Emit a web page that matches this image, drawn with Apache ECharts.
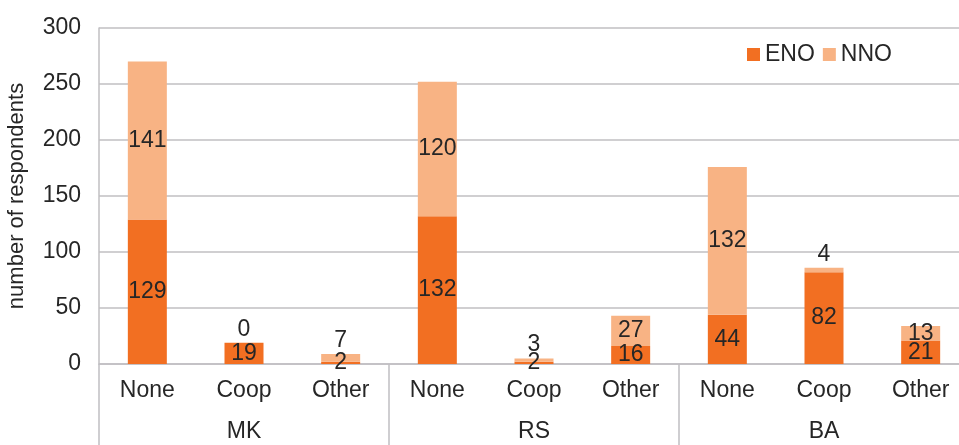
<!DOCTYPE html>
<html>
<head>
<meta charset="utf-8">
<script src="https://cdn.jsdelivr.net/npm/echarts@6/dist/echarts.min.js"></script>
<style>
  html, body { margin: 0; padding: 0; background: #fff; }
  #chart { width: 959px; height: 445px; }
</style>
</head>
<body>
<div id="chart"></div>
<script>
// Respondent counts by cooperation type, per country group
const groups = ['MK', 'RS', 'BA'];
const types = ['None', 'Coop', 'Other'];
const eno = [129, 19, 2, 132, 2, 16, 44, 82, 21];
const nno = [141, 0, 7, 120, 3, 27, 132, 4, 13];
const yTicks = { min: 0, max: 300, step: 50 };

const FONT = '"Liberation Sans Narrow", "Arial Narrow", "Liberation Sans", sans-serif';
const FS = 23;
const TEXT = '#262626';
const GRID = '#C0BFC2';
const ENO_COLOR = '#F26F22';
const NNO_COLOR = '#F8B384';

const categories = [];
groups.forEach(() => types.forEach(t => categories.push(t)));

// Thin top segments get their label lifted above the stack
const nnoData = nno.map(v => v < 8
  ? { value: v, label: { position: 'top', distance: 2 } }
  : v);

const chart = echarts.init(document.getElementById('chart'));
chart.setOption({
  animation: false,
  textStyle: { fontFamily: FONT },
  grid: { left: 99, top: 28, width: 870, height: 336, containLabel: false, outerBoundsMode: 'none' },
  legend: {
    left: 742, top: 38,
    itemWidth: 13, itemHeight: 13, itemGap: 8,
    icon: 'rect',
    textStyle: { fontFamily: FONT, fontSize: FS, color: TEXT },
    data: ['ENO', 'NNO']
  },
  xAxis: [
    {
      type: 'category',
      data: categories,
      position: 'bottom',
      axisLine: { show: true, lineStyle: { color: GRID, width: 1.5 } },
      axisTick: { show: false },
      axisLabel: { color: TEXT, fontFamily: FONT, fontSize: FS, margin: 15, interval: 0 }
    },
    {
      type: 'category',
      data: groups,
      position: 'bottom',
      boundaryGap: true,
      axisLine: { show: false },
      axisTick: { show: true, length: 82, interval: 0, lineStyle: { color: GRID, width: 1.5 } },
      axisLabel: { color: TEXT, fontFamily: FONT, fontSize: FS, margin: 56, interval: 0 }
    }
  ],
  yAxis: {
    type: 'value',
    min: yTicks.min, max: yTicks.max, interval: yTicks.step,
    name: 'number of respondents',
    nameLocation: 'middle',
    nameGap: 71,
    nameTextStyle: { color: TEXT, fontFamily: FONT, fontSize: 22 },
    axisLine: { show: true, lineStyle: { color: GRID, width: 1.5 } },
    axisTick: { show: false },
    axisLabel: { color: TEXT, fontFamily: FONT, fontSize: FS, margin: 18 },
    splitLine: { show: true, lineStyle: { color: GRID, width: 1.5 } }
  },
  series: [
    {
      name: 'ENO', type: 'bar', stack: 'total', xAxisIndex: 0,
      barWidth: 39,
      itemStyle: { color: ENO_COLOR },
      label: { show: true, position: 'inside', color: TEXT, fontFamily: FONT, fontSize: FS },
      data: eno
    },
    {
      name: 'NNO', type: 'bar', stack: 'total', xAxisIndex: 0,
      barWidth: 39,
      itemStyle: { color: NNO_COLOR },
      label: { show: true, position: 'inside', color: TEXT, fontFamily: FONT, fontSize: FS },
      data: nnoData
    }
  ]
});
</script>
</body>
</html>
